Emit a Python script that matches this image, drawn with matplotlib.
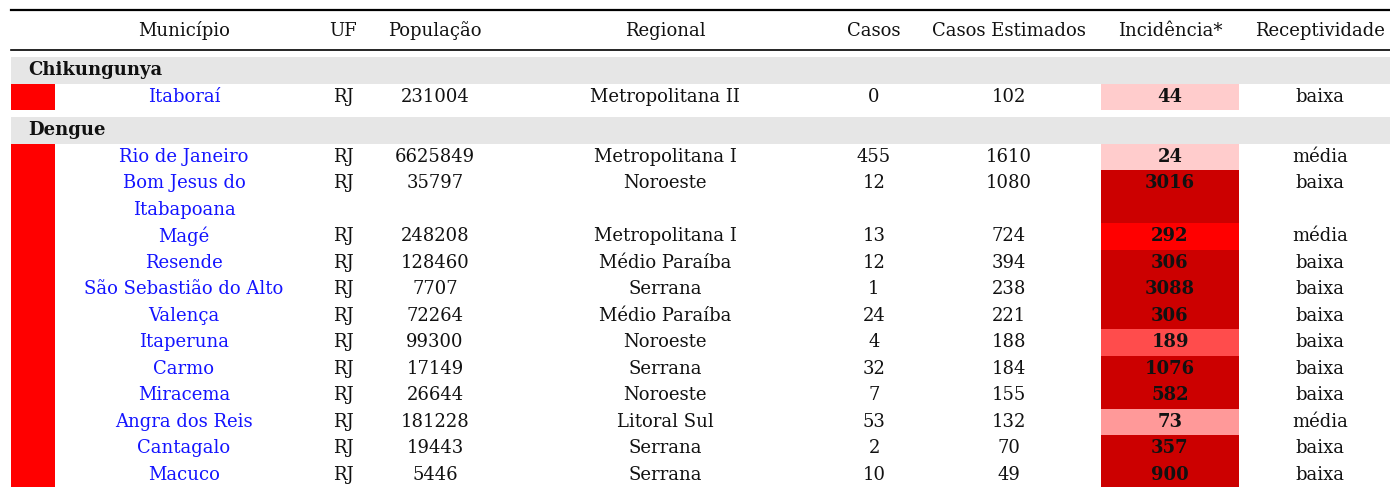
import matplotlib.pyplot as plt
from matplotlib.patches import Rectangle

# table contents
headers = ["Município", "UF", "População", "Regional", "Casos",
           "Casos Estimados", "Incidência*", "Receptividade"]
groups = ["Chikungunya", "Dengue"]
group_sizes = [1, 12]
municipios = ["Itaboraí", "Rio de Janeiro", "Bom Jesus do\nItabapoana", "Magé",
              "Resende", "São Sebastião do Alto", "Valença", "Itaperuna", "Carmo",
              "Miracema", "Angra dos Reis", "Cantagalo", "Macuco"]
uf = ["RJ"] * 13
populacao = [231004, 6625849, 35797, 248208, 128460, 7707, 72264, 99300,
             17149, 26644, 181228, 19443, 5446]
regional = ["Metropolitana II", "Metropolitana I", "Noroeste", "Metropolitana I",
            "Médio Paraíba", "Serrana", "Médio Paraíba", "Noroeste", "Serrana",
            "Noroeste", "Litoral Sul", "Serrana", "Serrana"]
casos = [0, 455, 12, 13, 12, 1, 24, 4, 32, 7, 53, 2, 10]
casos_est = [102, 1610, 1080, 724, 394, 238, 221, 188, 184, 155, 132, 70, 49]
incidencia = [44, 24, 3016, 292, 306, 3088, 306, 189, 1076, 582, 73, 357, 900]
receptividade = ["baixa", "média", "baixa", "média", "baixa", "baixa", "baixa",
                 "baixa", "baixa", "baixa", "média", "baixa", "baixa"]

# incidence colour classes
bins = [50, 100, 200, 300]
bin_colors = ["#ffcccc", "#ff9999", "#ff4c4c", "#ff0000", "#cc0000"]


def inc_color(v):
    for b, c in zip(bins, bin_colors):
        if v < b:
            return c
    return bin_colors[-1]


W, H = 1390, 487
fig = plt.figure(figsize=(W / 100, H / 100), dpi=100)
ax = fig.add_axes([0, 0, 1, 1])
ax.set_xlim(0, W)
ax.set_ylim(H, 0)
ax.axis("off")

plt.rcParams["font.family"] = ["DejaVu Serif"]
FS = 13
col_x = [184, 343, 435, 665, 874, 1009, 1170, 1320]
left, right = 11, W
row_h = 26.5
blue = "#1414ff"

ax.plot([left, right], [10, 10], color="black", lw=1.6)
for x, h in zip(col_x, headers):
    ax.text(x, 31, h, ha="center", va="center", fontsize=FS, color="#111111")
ax.plot([left, right], [50, 50], color="black", lw=1.2)

y = 57
i = 0
for g, n in zip(groups, group_sizes):
    ax.add_patch(Rectangle((left, y), right - left, row_h, color="#e6e6e6", lw=0))
    ax.text(28, y + row_h / 2, g, ha="left", va="center", fontsize=FS,
            fontweight="bold", color="#111111")
    y += row_h
    top = y
    for k in range(n):
        nl = municipios[i].count("\n") + 1
        h = row_h * nl
        ax.add_patch(Rectangle((1101, y), 138, h, color=inc_color(incidencia[i]), lw=0))
        yc = y + row_h / 2
        for li, line in enumerate(municipios[i].split("\n")):
            ax.text(col_x[0], yc + li * row_h, line, ha="center", va="center",
                    fontsize=FS, color=blue)
        vals = [uf[i], populacao[i], regional[i], casos[i], casos_est[i]]
        for x, v in zip(col_x[1:6], vals):
            ax.text(x, yc, str(v), ha="center", va="center", fontsize=FS,
                    color="#111111")
        ax.text(col_x[6], yc, str(incidencia[i]), ha="center", va="center",
                fontsize=FS, fontweight="bold", color="#111111")
        ax.text(col_x[7], yc, receptividade[i], ha="center", va="center",
                fontsize=FS, color="#111111")
        y += h
        i += 1
    ax.add_patch(Rectangle((left, top), 44, y - top, color="#ff0000", lw=0))
    y += 7

fig.savefig("out.png", dpi=100)
